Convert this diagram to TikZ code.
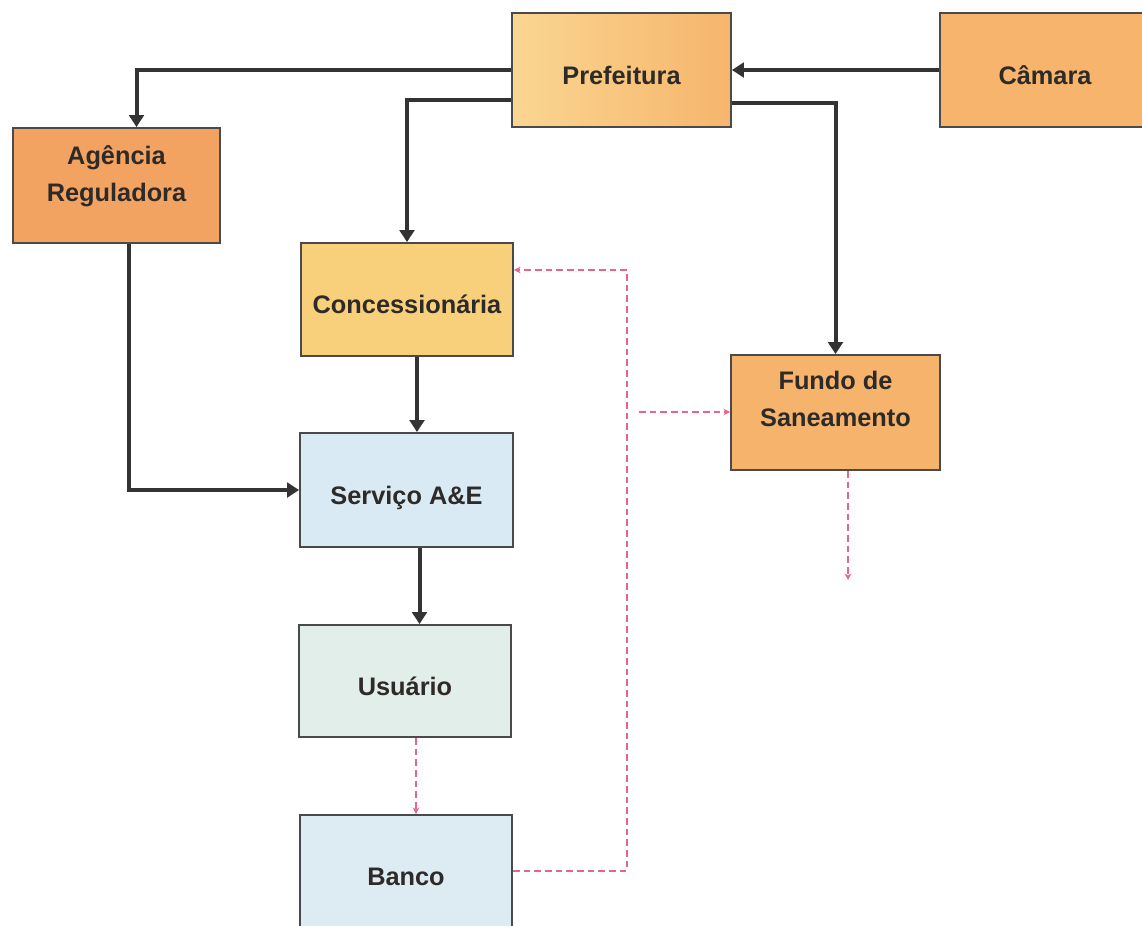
\documentclass[tikz,border=0pt]{standalone}
\usepackage{fontspec}
\setmainfont{Liberation Sans}
\usetikzlibrary{arrows.meta,calc}
\definecolor{boxline}{HTML}{4A4A4A}
\definecolor{txt}{HTML}{2E2A28}
\definecolor{arrowc}{HTML}{333333}
\definecolor{pinkc}{HTML}{E2668E}
\definecolor{prefL}{HTML}{FAD692}
\definecolor{prefR}{HTML}{F6B56C}
\definecolor{camc}{HTML}{F6B46C}
\definecolor{agc}{HTML}{F2A362}
\definecolor{concc}{HTML}{F8D07C}
\definecolor{fundoc}{HTML}{F5B36C}
\definecolor{servc}{HTML}{DAEAF5}
\definecolor{usuc}{HTML}{E2EEE9}
\definecolor{bancoc}{HTML}{DDECF2}
\tikzset{
  box/.style={draw=boxline, line width=1.4pt, inner sep=0pt, align=center,
    text=txt, font=\bfseries\fontsize{19}{27.75}\selectfont},
  oneline/.style={text height=22pt, text depth=0.6pt},
  arr/.style={draw=arrowc, line width=3pt, -{Triangle[length=9pt,width=11pt]}},
  pinkarr/.style={draw=pinkc, line width=1.5pt, dash pattern=on 5pt off 3pt,
    -{Stealth[length=5pt,width=5pt]}}
}
\begin{document}
\begin{tikzpicture}[x=0.75pt,y=-0.75pt]
\useasboundingbox (0,0) rectangle (1142,925);
\clip (0,0) rectangle (1142,925);
\fill[white] (0,0) rectangle (1142,925);

\node[box, oneline, left color=prefL, right color=prefR, minimum width=164.25pt, minimum height=85.5pt] (pref) at (621.5,70) {Prefeitura};
\node[box, oneline, fill=camc, minimum width=157.5pt, minimum height=85.5pt] (cam) at (1045,70) {Câmara};
\node[box, text height=24pt, text depth=0.7pt, fill=agc, minimum width=155.25pt, minimum height=86.25pt] (ag) at (116.5,185.5) {Agência\\Reguladora};
\node[box, oneline, fill=concc, minimum width=159pt, minimum height=84.75pt] (conc) at (407,299.5) {Concessionária};
\node[box, oneline, fill=servc, minimum width=159.75pt, minimum height=85.5pt] (serv) at (406.5,490) {Serviço A\&E};
\node[box, oneline, fill=usuc, minimum width=159pt, minimum height=84pt] (usu) at (405,681) {Usuário};
\node[box, oneline, fill=bancoc, minimum width=159pt, minimum height=84.75pt] (banco) at (406,871.5) {Banco};
\node[box, text height=21pt, text depth=0.7pt, fill=fundoc, minimum width=156.75pt, minimum height=86.25pt] (fundo) at (835.5,412.5) {Fundo de\\Saneamento};

% helper coordinates
\coordinate (c1) at ($(conc.south)+(10,0)$);
\coordinate (s1) at ($(serv.south)+(13,0)$);
\coordinate (u1) at ($(usu.south)+(11,0)$);
\coordinate (b1) at ($(banco.east)+(0,-1)$);
\coordinate (vtop) at (627,270);
\coordinate (branch) at (639,412);
\coordinate (fundoend) at (848,580);

% solid arrows
\draw[arr] (cam.west) -- (pref.east);
\draw[arr] (pref.west) -| ($(ag.north)+(20,0)$);
\draw[arr] ($(pref.west)+(0,30)$) -| (conc.north);
\draw[arr] ($(pref.east)+(0,33)$) -| (fundo.north);
\draw[arr] ($(ag.south)+(12,0)$) |- (serv.west);
\draw[arr] (c1) -- (c1 |- serv.north);
\draw[arr] (s1) -- (s1 |- usu.north);

% dashed pink arrows
\draw[pinkarr] (u1) -- (u1 |- banco.north);
\draw[pinkarr] (b1) -| (vtop) -- (conc.east |- vtop);
\draw[pinkarr] (branch) -- (fundo.west |- branch);
\draw[pinkarr] (fundo.south -| fundoend) -- (fundoend);
\end{tikzpicture}
\end{document}
